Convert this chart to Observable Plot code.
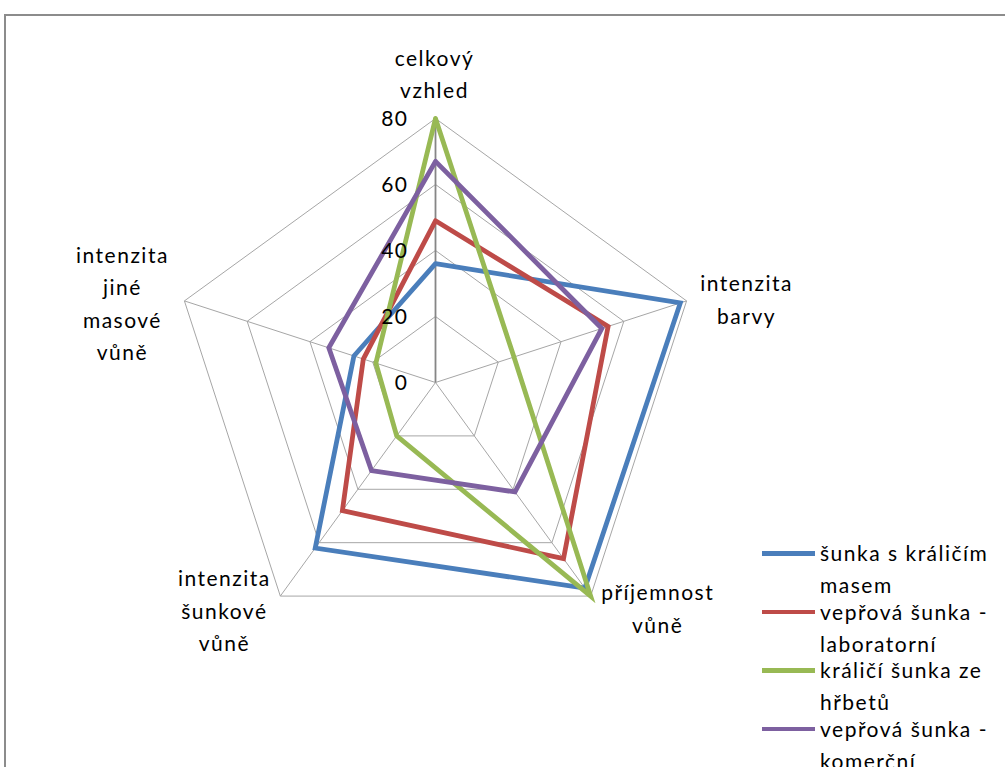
<!DOCTYPE html>
<html>
<head>
<meta charset="utf-8">
<script src="https://cdn.jsdelivr.net/npm/d3@7"></script>
<script src="https://cdn.jsdelivr.net/npm/@observablehq/plot@0.6"></script>
<style>
  html, body { margin: 0; padding: 0; background: #fff; }
  body { width: 1005px; height: 767px; overflow: hidden; position: relative; font-family: Lato, "Noto Sans", sans-serif; }
  #frame { position: absolute; left: 4px; top: 14px; width: 1100px; height: 900px; border: 2px solid #8c8c8c; box-sizing: border-box; }
  #chart { position: absolute; left: 0; top: 0; }
  #legend { position: absolute; left: 762px; top: 537px; }
  .entry { display: flex; height: 58.5px; }
  .sw { width: 53px; height: 4.5px; margin-top: 14px; flex: none; }
  .lab { width: 190px; font-size: 21px; line-height: 32px; margin-left: 5px; color: #000; letter-spacing: 1.5px; }
</style>
</head>
<body>
<div id="frame"></div>
<div id="chart"></div>
<div id="legend"></div>
<script>
// ---- data ----
const axes = ["celkový vzhled", "intenzita barvy", "příjemnost vůně", "intenzita šunkové vůně", "intenzita jiné masové vůně"];
const series = ["šunka s králičím masem", "vepřová šunka - laboratorní", "králičí šunka ze hřbetů", "vepřová šunka - komerční"];
const sunkaSKralicimMasem = [36, 78, 77, 62, 26];
const veprovaLaboratorni = [49, 55, 66, 48, 23];
const kraliciZeHrbetu = [80, 25, 80, 20, 19];
const veprovaKomercni = [67, 53, 41, 33, 34];
const ticks = [0, 20, 40, 60, 80];

const colors = ["#4A7EBB", "#BE4B48", "#98B954", "#7D60A0"];
const values = [sunkaSKralicimMasem, veprovaLaboratorni, kraliciZeHrbetu, veprovaKomercni];
const maxV = ticks[ticks.length - 1];
const n = axes.length;
const ang = i => i * 2 * Math.PI / n;
const px = (v, i) => v * Math.sin(ang(i));
const py = (v, i) => v * Math.cos(ang(i));
const closed = [...axes.keys(), 0];

const rows = values.flatMap((vals, s) => closed.map(i => ({series: series[s], x: px(vals[i], i), y: py(vals[i], i)})));
const rings = ticks.filter(t => t > 0).flatMap(t => closed.map(i => ({t, x: px(t, i), y: py(t, i)})));
const spokes = axes.map((a, i) => ({i, x2: px(maxV, i), y2: py(maxV, i)}));
const labels = axes.map((a, i) => ({i, text: a.split(" ").join("\n"), x: px(maxV, i), y: py(maxV, i)}));

const offs = [[-1, -47], [60, -4], [67, 10], [-56, 12], [-62, 0]];
const font = {fontSize: 21, fontFamily: "Lato, 'Noto Sans', sans-serif", fill: "#000"};

const chart = Plot.plot({
  width: 1005,
  height: 767,
  margin: 0,
  style: {background: "transparent", overflow: "visible", letterSpacing: "1.5px"},
  x: {domain: [-maxV, maxV], range: [171, 699], axis: null},
  y: {domain: [-maxV, maxV], range: [646, 118], axis: null},
  color: {domain: series, range: colors},
  marks: [
    Plot.line(rings, {x: "x", y: "y", z: "t", stroke: "#a6a6a6", strokeWidth: 1}),
    Plot.link(spokes.filter(d => d.i > 0), {x1: 0, y1: 0, x2: "x2", y2: "y2", stroke: "#a6a6a6", strokeWidth: 1}),
    Plot.link(spokes.filter(d => d.i === 0), {x1: 0, y1: 0, x2: "x2", y2: "y2", stroke: "#868686", strokeWidth: 1.8}),
    Plot.line(rows, {x: "x", y: "y", z: "series", stroke: "series", strokeWidth: 4.8, strokeLinejoin: "miter", strokeMiterlimit: 4}),
    Plot.text(ticks, {x: 0, y: d => d, text: d => String(d), textAnchor: "end", dx: -27, dy: 1, ...font}),
    ...labels.map(l => Plot.text([l], {x: "x", y: "y", text: "text", textAnchor: "middle", lineAnchor: "middle", lineHeight: 1.55, dx: offs[l.i][0], dy: offs[l.i][1], ...font}))
  ]
});
document.getElementById("chart").appendChild(chart);

const legend = document.getElementById("legend");
series.forEach((s, k) => {
  const e = document.createElement("div");
  e.className = "entry";
  e.innerHTML = `<div class="sw" style="background:${colors[k]}"></div><div class="lab"></div>`;
  e.querySelector(".lab").textContent = s;
  legend.appendChild(e);
});
</script>
</body>
</html>
